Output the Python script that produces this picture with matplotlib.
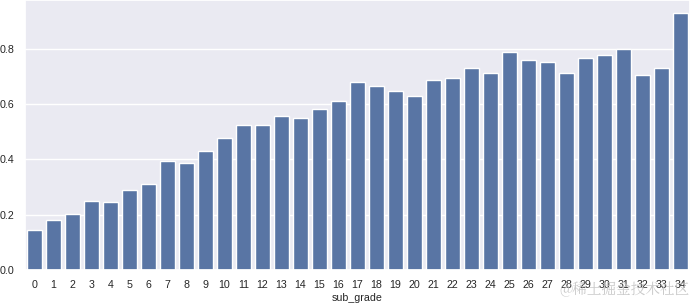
import matplotlib
matplotlib.use("Agg")
import matplotlib.pyplot as plt
import seaborn as sns

# bad-loan rate per sub_grade
sub_grade = list(range(35))
rate = [0.146, 0.181, 0.204, 0.249, 0.247, 0.289, 0.310, 0.393, 0.386, 0.430,
        0.477, 0.523, 0.523, 0.555, 0.549, 0.580, 0.609, 0.681, 0.663, 0.645,
        0.627, 0.685, 0.695, 0.731, 0.710, 0.789, 0.757, 0.750, 0.710, 0.767,
        0.776, 0.800, 0.703, 0.731, 0.929]

sns.set_theme(style="darkgrid")
plt.rcParams['font.family'] = ['Liberation Sans', 'DejaVu Sans']

fig = plt.figure(figsize=(6.94, 3.04), dpi=100)
ax = fig.add_axes([25 / 694, 34 / 304, 665 / 694, 270 / 304])
sns.barplot(x=sub_grade, y=rate, color="#4c72b0", ax=ax)
ax.set_xlabel("sub_grade", fontsize=7.7, labelpad=2.5)
ax.tick_params(axis='x', labelsize=7.7, length=0, pad=7)
ax.tick_params(axis='y', labelsize=7.7, length=0, pad=7.5)
ax.set_yticks([0.0, 0.2, 0.4, 0.6, 0.8])

fig.text(0.994, 0.018, "@稀土掘金技术社区", ha='right', va='bottom', fontsize=10.5,
         color='#c0c0c0', alpha=0.85,
         family=['Noto Serif CJK SC', 'Noto Sans CJK SC', 'DejaVu Sans'])

fig.savefig("out.png", dpi=100)
